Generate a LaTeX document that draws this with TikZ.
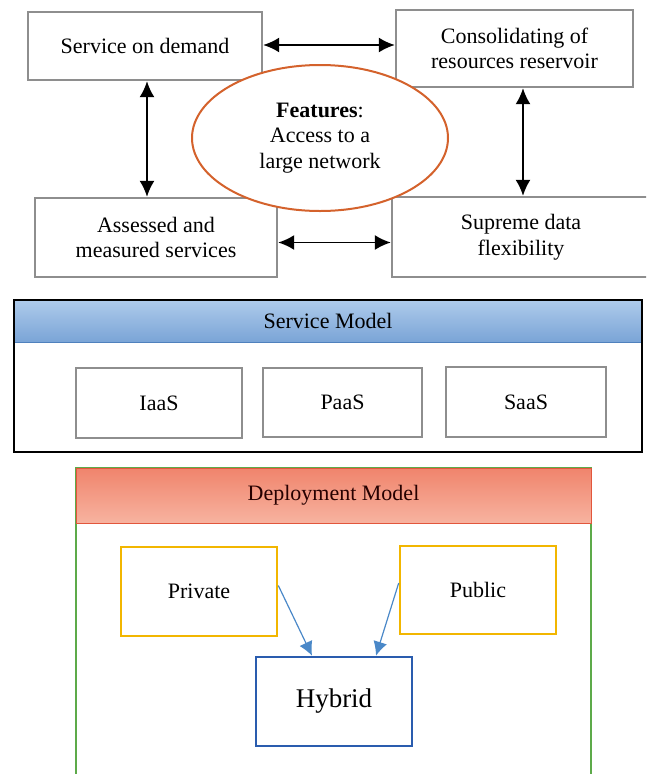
\documentclass[tikz,border=0pt]{standalone}
\usepackage{fontspec}
\setmainfont{Liberation Serif}
\usetikzlibrary{arrows.meta,shapes.geometric}

\definecolor{boxgray}{HTML}{8E8E8E}
\definecolor{featorange}{HTML}{D4622C}
\definecolor{hdrblueT}{HTML}{AECBEB}
\definecolor{hdrblueB}{HTML}{7AA4D6}
\definecolor{hdrblueL}{HTML}{4F81BD}
\definecolor{hdrredT}{HTML}{F0846C}
\definecolor{hdrredB}{HTML}{F7B3A0}
\definecolor{hdrredL}{HTML}{E2563C}
\definecolor{deplgreen}{HTML}{5DAA4A}
\definecolor{cloudyellow}{HTML}{F2B600}
\definecolor{hybridblue}{HTML}{2A5CAE}
\definecolor{linkblue}{HTML}{4A88C8}

\tikzset{
  every node/.style={font=\fontsize{22}{25.5}\selectfont, align=center, inner sep=0pt},
  featbox/.style={draw=boxgray, line width=2.4pt, fill=white},
  modelbox/.style={draw=boxgray, line width=2pt, fill=white},
  featlink/.style={line width=1.7pt, {Latex[length=16pt,width=15pt]}-{Latex[length=16pt,width=15pt]}},
  featoval/.style={ellipse, draw=featorange, line width=2pt, fill=white},
  cloudbox/.style={draw=cloudyellow, line width=2.6pt, fill=white},
  deplink/.style={draw=linkblue, line width=1.2pt, -{Latex[length=14pt,width=14pt]}},
}

\begin{document}
\begin{tikzpicture}[x=1pt, y=-1pt]
\useasboundingbox (0,0) rectangle (646,774);
\clip (0,0) rectangle (646,774);

% ---- features of the cloud ----
\node[featbox, minimum width=234pt, minimum height=68pt] (sod) at (145,46) {Service on demand};
\node[featbox, minimum width=237pt, minimum height=77pt] (cons) at (514.5,48.5) {Consolidating of\\resources reservoir};
\node[featbox, minimum width=242pt, minimum height=79pt] (ams) at (156,237.5) {Assessed and\\measured services};
\node[featbox, minimum width=258pt, minimum height=80pt] (sup) at (521,237) {Supreme data\\flexibility};

\node[featoval, minimum width=256pt, minimum height=146pt] (feat) at (320,138)
  {\textbf{Features}:\\Access to a\\large network};

\draw[featlink] ([yshift=1pt]sod.east) -- ([yshift=1pt]sod.east -| cons.west);
\draw[featlink] ([yshift=-5pt]ams.east) -- ([yshift=-5pt]ams.east -| sup.west);
\draw[featlink] ([xshift=2pt]sod.south) -- ([xshift=2pt]sod.south |- ams.north);
\draw[featlink] ([xshift=8.5pt]cons.south) -- ([xshift=8.5pt]cons.south |- sup.north);

% ---- service model ----
\node[top color=hdrblueT, bottom color=hdrblueB, minimum width=628pt, minimum height=42pt] (smhead) at (328,321) {Service Model};
\draw[hdrblueL, line width=1pt] (smhead.south west) -- (smhead.south east);
\node[draw=black, line width=2.6pt, minimum width=628pt, minimum height=152pt] (smodel) at (328,376) {};
\node[modelbox, minimum width=166pt, minimum height=70pt] (iaas) at (159,403) {IaaS};
\node[modelbox, minimum width=159pt, minimum height=69pt] (paas) at (342.5,402.5) {PaaS};
\node[modelbox, minimum width=160pt, minimum height=70pt] (saas) at (526,402) {SaaS};

% ---- deployment model ----
\node[draw=deplgreen, line width=2pt, minimum width=515pt, minimum height=322pt] (dmodel) at (333.5,629) {};
\node[top color=hdrredT, bottom color=hdrredB, draw=hdrredL, line width=1pt,
      minimum width=515pt, minimum height=55pt, text=black!85!red] (dmhead) at (333.5,495.5) {Deployment Model};
\node[cloudbox, minimum width=156pt, minimum height=89pt] (priv) at (199,591.5) {Private};
\node[cloudbox, minimum width=156pt, minimum height=88pt] (pub) at (478,590) {Public};
\node[draw=hybridblue, line width=2.6pt, fill=white, minimum width=156pt, minimum height=89pt,
      font=\fontsize{27}{30}\selectfont] (hyb) at (334,701.5) {Hybrid};

\draw[deplink] ([yshift=6pt]priv.east) -- ([xshift=-22pt]hyb.north);
\draw[deplink] ([yshift=7pt]pub.west) -- ([xshift=42pt]hyb.north);
\end{tikzpicture}
\end{document}
